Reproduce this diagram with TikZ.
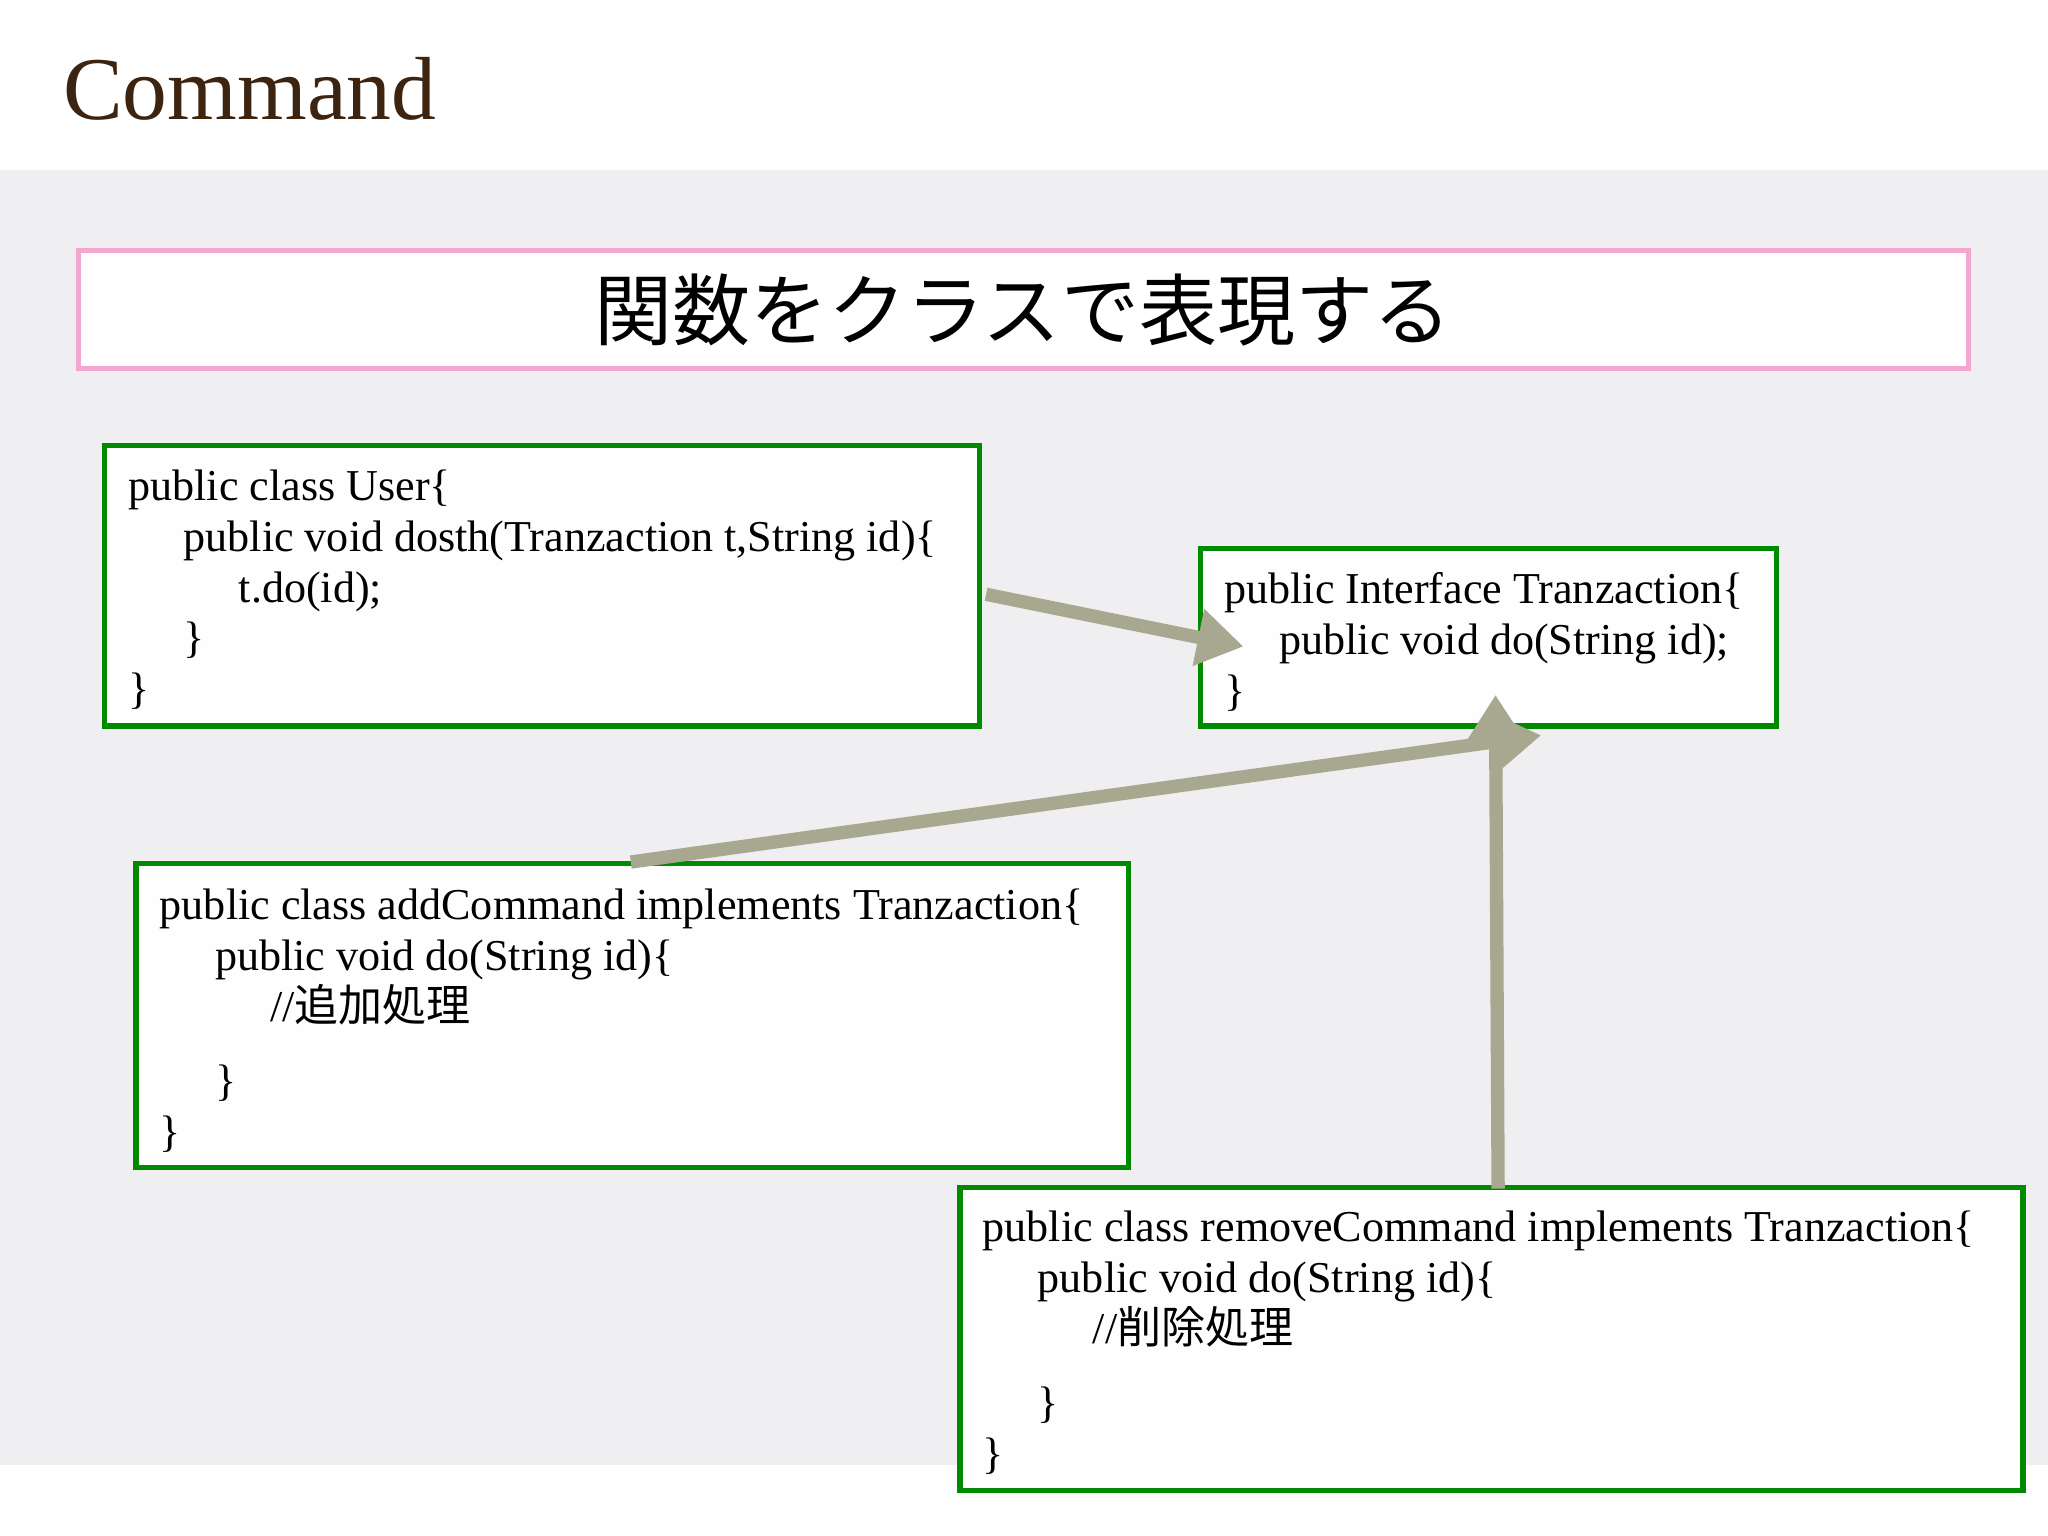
\documentclass[tikz,border=0pt]{standalone}
\usepackage{fontspec}
\setmainfont{Liberation Serif}
\newfontfamily\jp{Noto Sans CJK JP}
\usetikzlibrary{positioning,arrows.meta}
\definecolor{bgGray}{HTML}{EFEEF0}
\definecolor{codeGreen}{HTML}{008A00}
\definecolor{titleBrown}{HTML}{3D2410}
\definecolor{arrowOlive}{HTML}{A8A890}
\definecolor{boxPink}{HTML}{F4A6D0}

\begin{document}
\begin{tikzpicture}[
    x=0.01cm, y=-0.01cm,
    code/.style={draw=codeGreen, line width=1.2pt, fill=white!97!bgGray},
    listing/.style={anchor=north west, align=left, font=\fontsize{9.6}{11.1}\selectfont},
    flow/.style={draw=arrowOlive, line width=2.9pt, -{Triangle[length=10pt,width=12pt]}}
]
    \useasboundingbox (0,0) rectangle (1568,1176);
    \fill[bgGray] (0,130) rectangle (1568,1122);
    \node[anchor=west, text=titleBrown, font=\fontsize{19.5}{22}\selectfont] (title) at (36,68) {Command};

    \draw[draw=boxPink, line width=1.1pt, fill=white] (60,192) rectangle (1507,282);
    \node[font=\jp\fontsize{17}{20}\selectfont] (head) at (783,237) {関数をクラスで表現する};

    \draw[code] (80,341) rectangle (750,556);
    \node[listing] (user) at (86,347)
        {public class User\{\\
         \hspace*{12pt}public void dosth(Tranzaction t,String id)\{\\
         \hspace*{24pt}t.do(id);\\
         \hspace*{12pt}\}\\
         \}};
    \coordinate (userR) at (755,455);

    \draw[code] (919,420) rectangle (1360,556);
    \node[listing] (iface) at (925,426)
        {public Interface Tranzaction\{\\
         \hspace*{12pt}public void do(String id);\\
         \}};
    \coordinate (ifaceL) at (952,495);
    \coordinate (ifaceB) at (1180,563);
    \coordinate (ifaceC) at (1145,532);

    \draw[code] (104,661) rectangle (864,894);
    \node[listing] (addCmd) at (110,668)
        {public class addCommand implements Tranzaction\{\\
         \hspace*{12pt}public void do(String id)\{\\
         \hspace*{24pt}//{\jp 追加処理}\\[5pt]
         \hspace*{12pt}\}\\
         \}};
    \coordinate (addTop) at (483,660);

    \draw[code] (735,909) rectangle (1549,1141);
    \node[listing] (removeCmd) at (740,915)
        {public class removeCommand implements Tranzaction\{\\
         \hspace*{12pt}public void do(String id)\{\\
         \hspace*{24pt}//{\jp 削除処理}\\[5pt]
         \hspace*{12pt}\}\\
         \}};
    \coordinate (removeTop) at (1147,910);

    \draw[flow] (userR) -- (ifaceL);
    \draw[flow] (addTop) -- (ifaceB);
    \draw[flow] (removeTop) -- (ifaceC);
\end{tikzpicture}
\end{document}
